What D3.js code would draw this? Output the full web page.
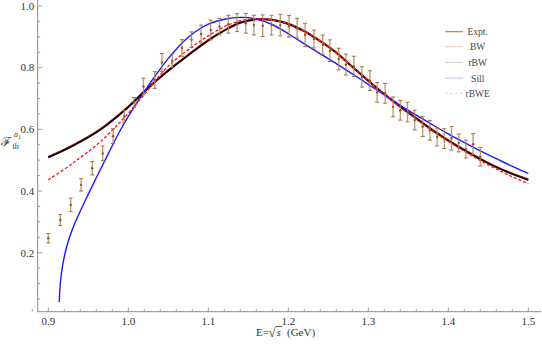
<!DOCTYPE html>
<html>
<head>
<meta charset="utf-8">
<script src="https://cdn.jsdelivr.net/npm/d3@7"></script>
<style>
  body { margin: 0; background: #fff; }
  svg text { font-family: "Liberation Serif", "DejaVu Serif", serif; }
</style>
</head>
<body>
<div id="chart"></div>
<script>
// experimental points (E in GeV, value, error)
var exptE = [0.900, 0.915, 0.928, 0.941, 0.955, 0.968, 0.981, 0.995, 1.007, 1.019,
             1.033, 1.042, 1.055, 1.067, 1.079, 1.091, 1.103, 1.114, 1.125, 1.136,
             1.147, 1.157, 1.168, 1.179, 1.190, 1.201, 1.211, 1.221, 1.232, 1.243,
             1.252, 1.263, 1.272, 1.282, 1.292, 1.302, 1.311, 1.321, 1.331, 1.340,
             1.349, 1.358, 1.368, 1.377, 1.386, 1.395, 1.404, 1.413, 1.422, 1.431, 1.440];
var exptV = [0.247, 0.306, 0.355, 0.420, 0.474, 0.522, 0.578, 0.642, 0.687, 0.739,
             0.760, 0.817, 0.823, 0.864, 0.891, 0.909, 0.922, 0.933, 0.941, 0.946,
             0.944, 0.938, 0.936, 0.938, 0.938, 0.934, 0.928, 0.906, 0.893, 0.874,
             0.855, 0.828, 0.810, 0.804, 0.770, 0.758, 0.720, 0.717, 0.673, 0.662,
             0.656, 0.630, 0.609, 0.597, 0.575, 0.570, 0.571, 0.556, 0.536, 0.552, 0.511];
var exptErr = [0.015, 0.018, 0.022, 0.020, 0.022, 0.024, 0.024, 0.019, 0.016, 0.027,
               0.027, 0.029, 0.022, 0.027, 0.025, 0.029, 0.032, 0.027, 0.029, 0.029,
               0.032, 0.032, 0.035, 0.032, 0.035, 0.035, 0.032, 0.038, 0.029, 0.032,
               0.035, 0.035, 0.034, 0.033, 0.033, 0.032, 0.032, 0.032, 0.032, 0.032,
               0.032, 0.032, 0.032, 0.032, 0.029, 0.032, 0.038, 0.029, 0.029, 0.034, 0.030];

// fitted curves
var fitE = [0.900, 0.930, 0.965, 1.000, 1.020, 1.050, 1.080, 1.100, 1.120, 1.140,
            1.160, 1.180, 1.200, 1.220, 1.240, 1.260, 1.280, 1.300, 1.320, 1.340,
            1.360, 1.380, 1.400, 1.420, 1.440, 1.460, 1.480, 1.500];
var bwV   = [0.510, 0.547, 0.600, 0.673, 0.723, 0.791, 0.851, 0.889, 0.921, 0.946,
             0.957, 0.955, 0.942, 0.918, 0.886, 0.849, 0.803, 0.758, 0.714, 0.674,
             0.636, 0.598, 0.564, 0.533, 0.504, 0.478, 0.456, 0.437];
var rbwV  = [0.508, 0.545, 0.598, 0.672, 0.722, 0.790, 0.850, 0.888, 0.920, 0.946,
             0.957, 0.955, 0.942, 0.918, 0.885, 0.848, 0.802, 0.757, 0.713, 0.673,
             0.635, 0.597, 0.563, 0.532, 0.503, 0.477, 0.455, 0.435];
var rbweV = [0.436, 0.489, 0.560, 0.652, 0.713, 0.805, 0.868, 0.903, 0.933, 0.952,
             0.959, 0.955, 0.943, 0.919, 0.886, 0.848, 0.802, 0.757, 0.712, 0.671,
             0.633, 0.595, 0.561, 0.529, 0.499, 0.471, 0.446, 0.424];
var sillE = [0.9137, 0.915, 0.918, 0.923, 0.930, 0.940, 0.950, 0.960, 0.970, 0.980,
             0.990, 1.000, 1.010, 1.020, 1.030, 1.040, 1.050, 1.060, 1.070, 1.080,
             1.090, 1.100, 1.120, 1.140, 1.160, 1.180, 1.200, 1.220, 1.240, 1.260,
             1.280, 1.300, 1.320, 1.340, 1.360, 1.380, 1.400, 1.420, 1.440, 1.460,
             1.480, 1.500];
var sillV = [0.040, 0.100, 0.160, 0.220, 0.275, 0.335, 0.390, 0.443, 0.495, 0.547,
             0.597, 0.642, 0.683, 0.722, 0.760, 0.796, 0.830, 0.860, 0.887, 0.909,
             0.927, 0.941, 0.957, 0.963, 0.958, 0.940, 0.910, 0.877, 0.845, 0.813,
             0.780, 0.746, 0.712, 0.678, 0.646, 0.615, 0.585, 0.557, 0.530, 0.505,
             0.480, 0.457];

var xTicks = [0.9, 1.0, 1.1, 1.2, 1.3, 1.4, 1.5];
var yTicks = [0.2, 0.4, 0.6, 0.8, 1.0];
var legendNames = ['Expt.', 'BW', 'rBW', 'Sill', 'rBWE'];

var width = 542, height = 345,
    axisX = 37.7, axisY = 311.7;

var x = d3.scaleLinear().domain([0.9, 1.5]).range([48.3, 528.3]);
var y = d3.scaleLinear().domain([0.2, 1.0]).range([252.7, 6]);

var svg = d3.select('#chart').append('svg')
    .attr('width', width)
    .attr('height', height);

// axes
var axisColor = '#8a8a8a';
svg.append('line')
    .attr('x1', axisX).attr('x2', axisX)
    .attr('y1', 0).attr('y2', axisY)
    .attr('stroke', axisColor).attr('stroke-width', 1);
svg.append('line')
    .attr('x1', axisX).attr('x2', 541)
    .attr('y1', axisY).attr('y2', axisY)
    .attr('stroke', axisColor).attr('stroke-width', 1);

// y ticks, minor every 0.05
var yMinor = d3.range(1, 21).map(function(i) { return i * 0.05; });
svg.append('g').selectAll('line')
    .data(yMinor)
    .enter().append('line')
    .attr('x1', axisX)
    .attr('x2', function(d) { return axisX + (Math.abs(d * 5 - Math.round(d * 5)) < 1e-6 ? 4.5 : 2.5); })
    .attr('y1', function(d) { return y(d); })
    .attr('y2', function(d) { return y(d); })
    .attr('stroke', axisColor).attr('stroke-width', 0.8);

svg.append('g').selectAll('text')
    .data(yTicks)
    .enter().append('text')
    .attr('x', axisX - 3.5)
    .attr('y', function(d) { return y(d) + 3.8; })
    .attr('text-anchor', 'end')
    .attr('font-size', 11)
    .attr('fill', '#333')
    .text(function(d) { return d.toFixed(1); });

// x ticks, minor every 0.02
var xMinor = d3.range(44, 76).map(function(i) { return i * 0.02; });
svg.append('g').selectAll('line')
    .data(xMinor)
    .enter().append('line')
    .attr('x1', function(d) { return x(d); })
    .attr('x2', function(d) { return x(d); })
    .attr('y1', axisY)
    .attr('y2', function(d) { return axisY - (Math.abs(d * 10 - Math.round(d * 10)) < 1e-6 ? 4.5 : 2.5); })
    .attr('stroke', axisColor).attr('stroke-width', 0.8);

svg.append('g').selectAll('text')
    .data(xTicks)
    .enter().append('text')
    .attr('x', function(d) { return x(d); })
    .attr('y', axisY + 13)
    .attr('text-anchor', 'middle')
    .attr('font-size', 11)
    .attr('fill', '#333')
    .text(function(d) { return d.toFixed(1); });

// axis labels
svg.append('text')
    .attr('x', 0.5).attr('y', 146)
    .attr('font-size', 12.5)
    .attr('font-family', 'DejaVu Sans')
    .attr('fill', '#333')
    .text('\u2131');
svg.append('text')
    .attr('x', 12.5).attr('y', 148.5)
    .attr('font-size', 8).attr('fill', '#333')
    .text('th');
svg.append('text')
    .attr('x', 14).attr('y', 136.5)
    .attr('font-size', 8).attr('font-style', 'italic').attr('fill', '#333')
    .text('a');
svg.append('text')
    .attr('x', 18.3).attr('y', 138.5)
    .attr('font-size', 5.5).attr('fill', '#333')
    .text('1');

var xl = svg.append('g').attr('fill', '#333').attr('font-size', 11);
xl.append('text').attr('x', 256).attr('y', 336).text('E=');
xl.append('text').attr('x', 268.5).attr('y', 337).attr('font-size', 13).text('\u221A');
xl.append('text').attr('x', 276.5).attr('y', 336).attr('font-style', 'italic').text('s');
xl.append('line')
    .attr('x1', 275.5).attr('x2', 282)
    .attr('y1', 326.5).attr('y2', 326.5)
    .attr('stroke', '#333').attr('stroke-width', 0.8);
xl.append('text').attr('x', 287).attr('y', 336).text('(GeV)');

// curves
function curvePath(es, vs) {
    return d3.line()
        .x(function(d) { return x(d[0]); })
        .y(function(d) { return y(d[1]); })
        .curve(d3.curveCatmullRom.alpha(0.5))(d3.zip(es, vs));
}

svg.append('path')
    .attr('d', curvePath(fitE, bwV))
    .attr('fill', 'none').attr('stroke', '#7a0a0a').attr('stroke-width', 2.2);
svg.append('path')
    .attr('d', curvePath(fitE, rbwV))
    .attr('fill', 'none').attr('stroke', '#000').attr('stroke-width', 1.2);
svg.append('path')
    .attr('d', curvePath(sillE, sillV))
    .attr('fill', 'none').attr('stroke', '#1a1aff').attr('stroke-width', 1.4);
svg.append('path')
    .attr('d', curvePath(fitE, rbweV))
    .attr('fill', 'none').attr('stroke', '#ff1a1a').attr('stroke-width', 1.4)
    .attr('stroke-dasharray', '3,2');

// experimental points with error bars
var pts = svg.append('g').selectAll('g')
    .data(d3.range(exptE.length))
    .enter().append('g');
pts.append('line')
    .attr('x1', function(i) { return x(exptE[i]); })
    .attr('x2', function(i) { return x(exptE[i]); })
    .attr('y1', function(i) { return y(exptV[i] - exptErr[i]); })
    .attr('y2', function(i) { return y(exptV[i] + exptErr[i]); })
    .attr('stroke', '#b08458').attr('stroke-opacity', 0.85).attr('stroke-width', 1.3);
[-1, 1].forEach(function(s) {
    pts.append('line')
        .attr('x1', function(i) { return x(exptE[i]) - 2; })
        .attr('x2', function(i) { return x(exptE[i]) + 2; })
        .attr('y1', function(i) { return y(exptV[i] + s * exptErr[i]); })
        .attr('y2', function(i) { return y(exptV[i] + s * exptErr[i]); })
        .attr('stroke', '#a0703e').attr('stroke-width', 1);
});
pts.append('circle')
    .attr('cx', function(i) { return x(exptE[i]); })
    .attr('cy', function(i) { return y(exptV[i]); })
    .attr('r', 1.2)
    .attr('fill', '#8b5a2b');

// legend
var legendColors = ['#a87448', '#f2c9c9', '#d4d4d4', '#c9c9ff', '#f7c6d2'];
var legendY = [31.7, 46.7, 62.5, 78.2, 93.3];
var lg = svg.append('g').selectAll('g')
    .data(legendNames)
    .enter().append('g');
lg.append('line')
    .attr('x1', 445).attr('x2', 463)
    .attr('y1', function(d, i) { return legendY[i]; })
    .attr('y2', function(d, i) { return legendY[i]; })
    .attr('stroke', function(d, i) { return legendColors[i]; })
    .attr('stroke-width', 1.1)
    .attr('stroke-dasharray', function(d, i) { return i === 4 ? '3,2' : null; });
lg.append('text')
    .attr('x', 477.7)
    .attr('y', function(d, i) { return legendY[i] + 3.3; })
    .attr('text-anchor', 'middle')
    .attr('font-size', 9.5)
    .attr('fill', '#444')
    .text(function(d) { return d; });
</script>
</body>
</html>
